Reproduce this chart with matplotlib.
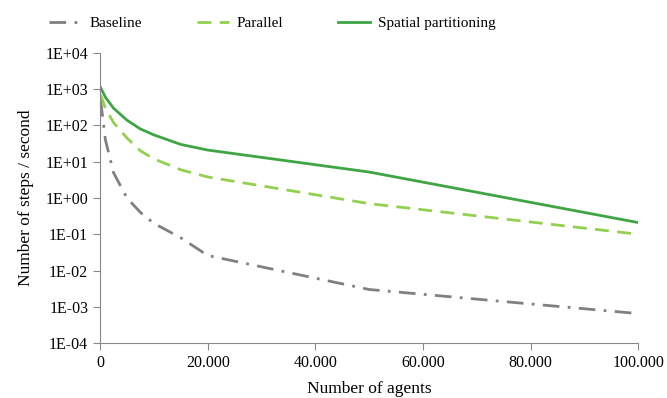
import math
import matplotlib.pyplot as plt
from matplotlib.ticker import FuncFormatter, FixedLocator, NullLocator

# Data
agents = [100, 1000, 2500, 5000, 7500, 10000, 15000, 20000, 50000, 100000]
baseline = [500, 40, 5, 1.0, 0.4, 0.2, 0.08, 0.026, 0.003, 0.00065]
parallel = [700, 300, 120, 45, 20, 12, 6, 3.8, 0.7, 0.1]
spatial = [1100, 600, 300, 140, 80, 55, 30, 21, 5.2, 0.21]

plt.rcParams['font.family'] = ['Liberation Serif', 'DejaVu Serif']

fig = plt.figure(figsize=(6.67, 3.98), dpi=100)
ax = fig.add_axes([0.15, 0.138, 0.807, 0.729])

ax.plot(agents, baseline, color='#808080', lw=2, dashes=(6, 3, 1, 3), label='Baseline')
ax.plot(agents, parallel, color='#92D050', lw=2, dashes=(5, 3), label='Parallel')
ax.plot(agents, spatial, color='#3FA544', lw=2, label='Spatial partitioning')

ax.set_yscale('log')
ax.set_ylim(1e-4, 1e4)
ax.set_xlim(0, 100000)
ax.yaxis.set_major_locator(FixedLocator([10.0 ** k for k in range(-4, 5)]))
ax.yaxis.set_minor_locator(NullLocator())
ax.yaxis.set_major_formatter(FuncFormatter(lambda v, p: '1E%+03d' % round(math.log10(v))))
ax.set_xticks(range(0, 100001, 20000))
ax.xaxis.set_major_formatter(FuncFormatter(lambda v, p: f'{int(v):,}'.replace(',', '.')))

for s in ['top', 'right']:
    ax.spines[s].set_visible(False)
for s in ['left', 'bottom']:
    ax.spines[s].set_color('#888888')
ax.tick_params(axis='both', colors='#888888', labelcolor='black', labelsize=11.5, length=5)

ax.set_xlabel('Number of agents', fontsize=12.5, labelpad=7)
ax.set_ylabel('Number of steps / second', fontsize=12.5, labelpad=8)

ax.legend(loc='lower center', bbox_to_anchor=(0.32, 1.03), ncol=3, frameon=False,
          fontsize=11, handlelength=2.1, columnspacing=3.6, handletextpad=0.5)

fig.savefig('out.png', dpi=100)
